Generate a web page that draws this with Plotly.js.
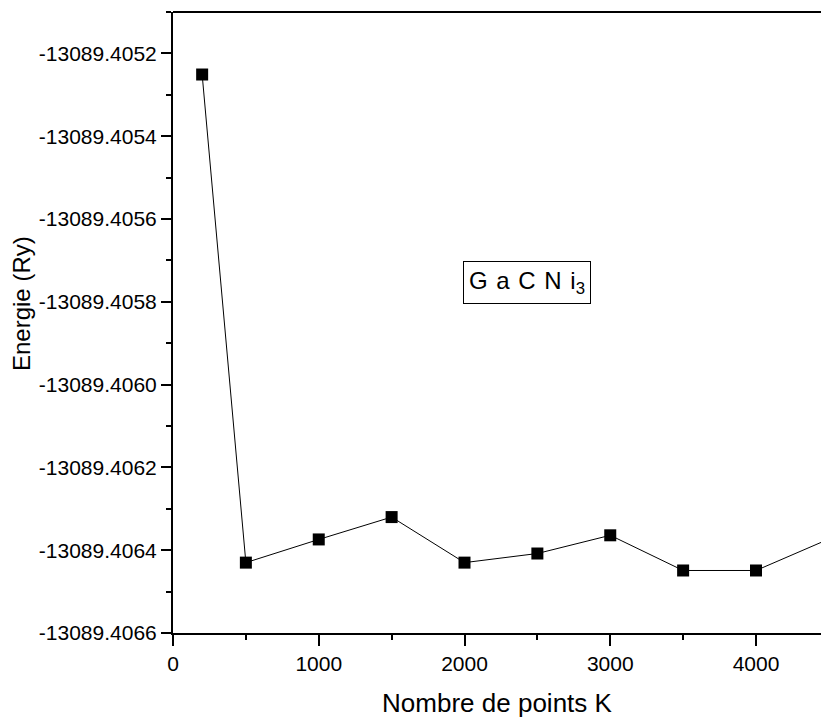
<!DOCTYPE html>
<html>
<head>
<meta charset="utf-8">
<script src="https://cdn.plot.ly/plotly-3.0.1.min.js"></script>
<style>html,body{margin:0;padding:0;background:#fff;}#chart{width:821px;height:720px;}</style>
</head>
<body>
<div id="chart"></div>
<script>
// Data
const kPoints = [200, 500, 1000, 1500, 2000, 2500, 3000, 3500, 4000, 4500];
const energies = [-13089.405251, -13089.40643, -13089.406374, -13089.40632, -13089.40643,
                  -13089.406408, -13089.406364, -13089.406449, -13089.406449, -13089.406373];
const yTickVals = [-13089.4066, -13089.4064, -13089.4062, -13089.4060, -13089.4058,
                   -13089.4056, -13089.4054, -13089.4052];
const yTickText = ['-13089.4066', '-13089.4064', '-13089.4062', '-13089.4060', '-13089.4058',
                   '-13089.4056', '-13089.4054', '-13089.4052'];
const xTitle = 'Nombre de points K';
const yTitle = 'Energie (Ry)';
const label = 'G &#8202;a &#8202;C &#8202;N &#8202;i<sub>3</sub>';

const font = 'Arial, "Liberation Sans", sans-serif';

const trace = {
  x: kPoints, y: energies, type: 'scatter', mode: 'lines+markers',
  line: {color: '#000', width: 1},
  marker: {symbol: 'square', size: 12, color: '#000'},
  cliponaxis: true,
  showlegend: false
};

const L = 173, T = 12, W = 648, H = 621;

const layout = {
  width: 821, height: 720,
  margin: {l: L, r: 0, t: T, b: 87},
  paper_bgcolor: '#fff', plot_bgcolor: '#fff',
  font: {family: font, color: '#000'},
  xaxis: {
    range: [0, 4446], tick0: 0, dtick: 1000,
    ticks: 'outside', ticklen: 11, tickwidth: 2, tickcolor: '#000',
    minor: {dtick: 500, tick0: 0, ticks: 'outside', ticklen: 5, tickwidth: 2, tickcolor: '#000'},
    showline: true, linewidth: 2, linecolor: '#000',
    showgrid: false, zeroline: false,
    tickfont: {size: 21, family: font},
    title: {text: xTitle, font: {size: 26, family: font}, standoff: 20}
  },
  yaxis: {
    range: [-13089.4066, -13089.4051],
    tickmode: 'array', tickvals: yTickVals, ticktext: yTickText,
    ticks: 'outside', ticklen: 10, tickwidth: 2, tickcolor: '#000',
    minor: {dtick: 0.0001, tick0: -13089.4066, ticks: 'outside', ticklen: 5, tickwidth: 2, tickcolor: '#000'},
    showline: true, linewidth: 2, linecolor: '#000',
    showgrid: false, zeroline: false,
    tickfont: {size: 21, family: font},
    title: {text: ''}
  },
  shapes: [
    {type: 'line', xref: 'paper', yref: 'paper', x0: 0, x1: 1, y0: 1, y1: 1,
     line: {color: '#000', width: 2}}
  ],
  annotations: [
    {xref: 'paper', yref: 'paper', x: (527 - L) / W, y: (T + H - 282) / H,
     xanchor: 'center', yanchor: 'middle', showarrow: false,
     text: label, font: {size: 24, family: font, color: '#000'},
     bordercolor: '#000', borderwidth: 1, borderpad: 5, bgcolor: '#fff'},
    {xref: 'paper', yref: 'paper', x: (21 - L) / W, y: (T + H - 304) / H,
     xanchor: 'center', yanchor: 'middle', showarrow: false, textangle: -90,
     text: yTitle, font: {size: 24, family: font, color: '#000'}}
  ]
};

Plotly.newPlot('chart', [trace], layout, {displayModeBar: false, staticPlot: true});
</script>
</body>
</html>
